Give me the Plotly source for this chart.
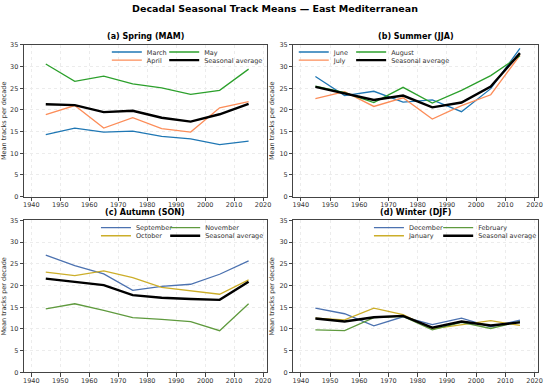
import plotly.graph_objects as go

decades = [1945, 1955, 1965, 1975, 1985, 1995, 2005, 2015]

spring_march = [14.3, 15.8, 14.9, 15.1, 13.9, 13.3, 12.0, 12.8]
spring_april = [18.9, 21.0, 15.8, 18.2, 15.7, 14.9, 20.5, 21.9]
spring_may = [30.6, 26.6, 27.8, 26.0, 25.1, 23.6, 24.5, 29.4]
spring_avg = [21.3, 21.1, 19.5, 19.8, 18.2, 17.3, 19.0, 21.4]

summer_june = [27.7, 23.3, 24.3, 21.8, 22.3, 19.6, 24.9, 34.2]
summer_july = [22.6, 24.2, 20.8, 22.8, 17.9, 21.0, 23.5, 32.6]
summer_august = [25.5, 24.0, 21.7, 25.2, 21.6, 24.5, 27.9, 32.5]
summer_avg = [25.3, 23.8, 22.3, 23.3, 20.6, 21.7, 25.4, 33.1]

autumn_september = [27.0, 24.6, 22.7, 18.9, 19.8, 20.3, 22.6, 25.7]
autumn_october = [23.1, 22.3, 23.4, 21.8, 19.6, 18.8, 18.0, 21.3]
autumn_november = [14.6, 15.8, 14.3, 12.6, 12.2, 11.7, 9.6, 15.8]
autumn_avg = [21.6, 20.9, 20.1, 17.8, 17.2, 16.9, 16.7, 20.9]

winter_december = [14.8, 13.5, 10.7, 12.8, 11.0, 12.5, 10.5, 12.0]
winter_january = [12.5, 12.1, 14.8, 13.3, 10.0, 11.0, 11.9, 10.8]
winter_february = [9.8, 9.6, 12.6, 12.9, 9.8, 11.5, 10.1, 11.7]
winter_avg = [12.4, 11.7, 12.7, 13.0, 10.3, 11.7, 10.8, 11.5]

x_ticks = [1940, 1950, 1960, 1970, 1980, 1990, 2000, 2010, 2020]
y_ticks = [0, 5, 10, 15, 20, 25, 30, 35]

W, H = 550, 391
FONT = "DejaVu Sans"

# legend placement per panel: (first-column text start px, second-column text start px)
panels = [
    dict(title="(a) Spring (MAM)",
         months=[("March", spring_march, "#1f77b4"), ("April", spring_april, "#fc8d59"), ("May", spring_may, "#2ca02c")],
         avg=spring_avg, px=(23.3, 268.5), py=(41.7, 196.7), leg=(147, 205)),
    dict(title="(b) Summer (JJA)",
         months=[("June", summer_june, "#1f77b4"), ("July", summer_july, "#fc8d59"), ("August", summer_august, "#2ca02c")],
         avg=summer_avg, px=(295.7, 543.0), py=(41.7, 196.7), leg=(336, 394)),
    dict(title="(c) Autumn (SON)",
         months=[("September", autumn_september, "#4c72b0"), ("October", autumn_october, "#ccae2a"), ("November", autumn_november, "#5f9a3e")],
         avg=autumn_avg, px=(23.3, 268.5), py=(221.0, 376.0), leg=(136, 206)),
    dict(title="(d) Winter (DJF)",
         months=[("December", winter_december, "#4c72b0"), ("January", winter_january, "#ccae2a"), ("February", winter_february, "#5f9a3e")],
         avg=winter_avg, px=(295.7, 543.0), py=(221.0, 376.0), leg=(412, 482)),
]

fig = go.Figure()
layout = dict(
    width=W, height=H, margin=dict(l=0, r=0, t=0, b=0),
    paper_bgcolor="white", plot_bgcolor="white",
    font=dict(family=FONT, size=7, color="#333333"),
    showlegend=True,
    title=dict(text="<b>Decadal Seasonal Track Means — East Mediterranean</b>",
               x=0.5, xanchor="center", y=1 - 8.5 / H, yanchor="middle",
               font=dict(family=FONT, size=9.5, color="black")),
)
annotations = []
leg_idx = 0
for i, p in enumerate(panels):
    n = "" if i == 0 else str(i + 1)
    xa, ya = "x" + n, "y" + n
    x0, x1 = p["px"][0] / W, p["px"][1] / W
    y0, y1 = 1 - p["py"][1] / H, 1 - p["py"][0] / H
    axis_common = dict(showline=True, linecolor="#444444", linewidth=0.9, mirror=True,
                       ticks="outside", ticklen=3.5, tickwidth=0.8, tickcolor="#444444",
                       showgrid=True, gridcolor="#ececec", griddash="dot", gridwidth=0.7,
                       zeroline=False, tickfont=dict(size=6.5, color="#333333"))
    layout["xaxis" + n] = dict(domain=[x0, x1], anchor=ya, range=[1937.5, 2021.2],
                               tickvals=x_ticks, ticklabelstandoff=-2, **axis_common)
    layout["yaxis" + n] = dict(domain=[y0, y1], anchor=xa, range=[0, 35], tickvals=y_ticks,
                               title=dict(text="Mean tracks per decade", font=dict(size=6.5, color="#333333"), standoff=4),
                               **axis_common)
    annotations.append(dict(text="<b>" + p["title"] + "</b>", x=(x0 + x1) / 2, y=y1 + 2 / H,
                            xref="paper", yref="paper", xanchor="center", yanchor="bottom",
                            showarrow=False, font=dict(family=FONT, size=8, color="black")))
    m = p["months"]
    s1, s2 = p["leg"]
    # (name, values, colour, width, column, row)
    entries = [(m[0][0], m[0][1], m[0][2], 1.3, 0, 0), (m[1][0], m[1][1], m[1][2], 1.3, 0, 1),
               (m[2][0], m[2][1], m[2][2], 1.3, 1, 0), ("Seasonal average", p["avg"], "black", 2.4, 1, 1)]
    for (name, vals, color, lw, col, row) in entries:
        leg_idx += 1
        lname = "legend" if leg_idx == 1 else "legend" + str(leg_idx)
        tx = s1 if col == 0 else s2
        layout[lname] = dict(x=(tx - 40) / W, y=1 - (p["py"][0] + 7.3 + row * 8.3) / H,
                             xanchor="left", yanchor="middle",
                             bgcolor="rgba(0,0,0,0)", borderwidth=0, itemwidth=30,
                             font=dict(family=FONT, size=6.5, color="#333333"),
                             itemclick=False, itemdoubleclick=False)
        fig.add_trace(go.Scatter(x=decades, y=vals, mode="lines", name=name,
                                 line=dict(color=color, width=lw), xaxis=xa, yaxis=ya,
                                 legend=lname, showlegend=True))

layout["annotations"] = annotations
fig.update_layout(**layout)
fig.write_html("out.html", config={"displayModeBar": False},
               post_script="document.body.style.margin='0';")
